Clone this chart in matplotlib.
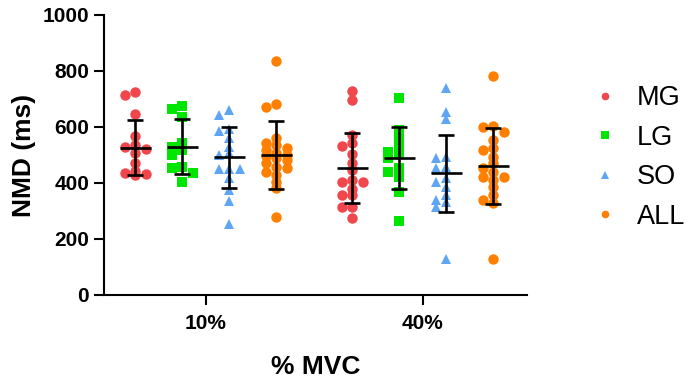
import numpy as np
import matplotlib
matplotlib.use('Agg')
import matplotlib.pyplot as plt
from matplotlib.lines import Line2D

plt.rcParams['font.family'] = ['Liberation Sans', 'DejaVu Sans']

# values (NMD in ms)
muscles = ['MG', 'LG', 'SO', 'ALL']
levels = ['10%', '40%']

mg_10 = [726, 714, 646, 568, 535, 527, 520, 506, 472, 444, 437, 430, 432]
lg_10 = [675, 663, 634, 543, 530, 518, 500, 458, 453, 437, 405]
so_10 = [661, 643, 592, 587, 560, 530, 508, 500, 449, 449, 449, 417, 375, 337, 254]
all_10 = [837, 682, 673, 560, 544, 536, 525, 518, 507, 500, 495, 490, 482, 470,
          458, 452, 440, 429, 405, 381, 277]

mg_40 = [729, 696, 573, 542, 532, 502, 470, 446, 410, 405, 405, 380, 357, 357,
         315, 315, 276]
lg_40 = [702, 590, 565, 532, 512, 506, 490, 455, 438, 423, 369, 265]
so_40 = [738, 655, 627, 494, 488, 458, 452, 417, 405, 387, 357, 339, 331, 315, 127]
all_40 = [783, 604, 599, 583, 554, 524, 518, 494, 470, 452, 440, 423, 423, 410,
          387, 357, 340, 327, 129]

# mean and SD as drawn by the error bars
means_10 = [526, 530, 492, 500]
sds_10 = [98, 97, 109, 120]
means_40 = [455, 488, 434, 461]
sds_40 = [125, 111, 137, 136]

colors = ['#F0474C', '#00E600', '#5EA6F5', '#FF8000']
markers = ['o', 's', '^', 'o']
msizes = [7.5, 7, 7.5, 7.5]

data = {'10%': [mg_10, lg_10, so_10, all_10], '40%': [mg_40, lg_40, so_40, all_40]}
stats = {'10%': (means_10, sds_10), '40%': (means_40, sds_40)}


def swarm(vals, col_w=0.1, min_gap=22):
    # spread overlapping points over three columns, like Prism does
    order = np.argsort(vals)[::-1]
    placed = []
    xs = np.zeros(len(vals))
    for i in order:
        v = vals[i]
        best_c, best_d = 0, -1
        for c in [0, -1, 1]:
            d = min([abs(pv - v) for pc, pv in placed if pc == c], default=1e9)
            if d >= min_gap:
                best_c = c
                break
            if d > best_d:
                best_c, best_d = c, d
        placed.append((best_c, v))
        xs[i] = best_c * col_w
    return xs


fig = plt.figure(figsize=(6.88, 3.8), dpi=100)
ax = fig.add_axes([104 / 688, 85 / 380, 423 / 688, 280 / 380])

centers = [1, 3]
offsets = [-0.65, -0.217, 0.217, 0.65]

for g, lev in enumerate(levels):
    means, sds = stats[lev]
    for k in range(4):
        vals = np.array(data[lev][k], dtype=float)
        x0 = centers[g] + offsets[k]
        xs = x0 + swarm(vals)
        ax.plot(xs, vals, linestyle='none', marker=markers[k], color=colors[k],
                markersize=msizes[k], markeredgewidth=0, zorder=2)
        ax.errorbar([x0], [means[k]], yerr=[sds[k]], fmt='none', ecolor='black',
                    elinewidth=1.9, capsize=5.8, capthick=1.9, zorder=3)
        ax.hlines(means[k], x0 - 0.143, x0 + 0.143, color='black', linewidth=1.9, zorder=3)

ax.set_xlim(0.06, 3.96)
ax.set_ylim(0, 1000)
ax.set_yticks([0, 200, 400, 600, 800, 1000])
ax.set_xticks(centers)
ax.set_xticklabels(levels)

for s in ['top', 'right']:
    ax.spines[s].set_visible(False)
for s in ['left', 'bottom']:
    ax.spines[s].set_linewidth(1.5)

ax.tick_params(axis='both', direction='out', length=7.2, width=1.5, labelsize=15)
ax.tick_params(axis='y', pad=3.5)
ax.tick_params(axis='x', pad=6.5)
for lab in ax.get_xticklabels() + ax.get_yticklabels():
    lab.set_fontweight('bold')

ax.set_ylabel('NMD (ms)', fontsize=19, fontweight='bold', labelpad=5)
ax.set_xlabel('% MVC', fontsize=19, fontweight='bold', labelpad=16)

handles = [Line2D([], [], linestyle='none', marker=markers[k], color=colors[k],
                  markersize=5.5, markeredgewidth=0) for k in range(4)]
ax.legend(handles, muscles, loc='upper left', bbox_to_anchor=(592 / 688, 1 - 85 / 380),
          bbox_transform=fig.transFigure, frameon=False, fontsize=19.5,
          labelspacing=0.5, handletextpad=0.7, handlelength=0.95, borderpad=0,
          borderaxespad=0)

fig.savefig('out.png', dpi=100)
